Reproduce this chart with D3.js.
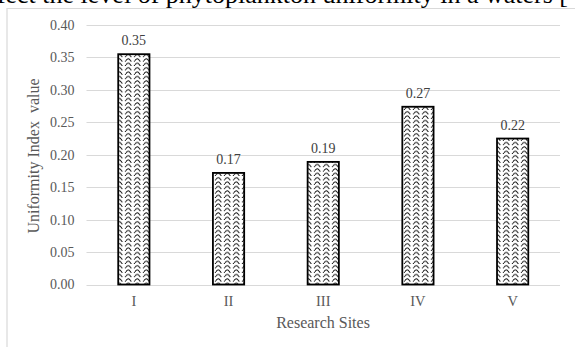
<!DOCTYPE html>
<html><head><meta charset="utf-8">
<script src="https://cdn.jsdelivr.net/npm/d3@7"></script>
<style>html,body{margin:0;padding:0;background:#fff;overflow:hidden}</style>
</head><body>
<svg id="c" width="575" height="347"></svg>
<script>
const categories = ["I","II","III","IV","V"];
const values = [0.355, 0.172, 0.189, 0.274, 0.225];
const valueLabels = ["0.35","0.17","0.19","0.27","0.22"];
const yTicks = [0,0.05,0.10,0.15,0.20,0.25,0.30,0.35,0.40];

const svg = d3.select("#c");
const serif = "'Liberation Serif','Times New Roman',serif";

// cut-off caption line above the chart (cropped in the reference as well)
svg.append("text").attr("x",568).attr("y",3).attr("text-anchor","end")
  .attr("font-family",serif).attr("font-size",26).attr("fill","#000")
  .text("factors that affect the level of phytoplankton uniformity in a waters [");

// frame
svg.append("line").attr("x1",6.5).attr("x2",575).attr("y1",8.5).attr("y2",8.5).attr("stroke","#d9d9d9").attr("stroke-width",1.2);
svg.append("line").attr("x1",7).attr("x2",7).attr("y1",8.5).attr("y2",347).attr("stroke","#d9d9d9").attr("stroke-width",1.2);

const defs = svg.append("defs");
const pat = defs.append("pattern").attr("id","wave").attr("patternUnits","userSpaceOnUse")
  .attr("width",9).attr("height",4.4);
pat.append("rect").attr("width",9).attr("height",4.4).attr("fill","#fff");
pat.append("path").attr("d","M0,3.3 Q2.25,-0.3 4.5,3.3 T9,3.3").attr("fill","none").attr("stroke","#000").attr("stroke-width",0.9);

const x = d3.scaleBand().domain(categories).range([86.5,560]).paddingInner(0.67).paddingOuter(0.335);
const y = d3.scaleLinear().domain([0,0.4]).range([284.5,25]);

const g = svg.append("g");
g.selectAll(".grid").data(yTicks).join("line")
  .attr("x1",86.5).attr("x2",560).attr("y1",d=>Math.round(y(d))+0.5).attr("y2",d=>Math.round(y(d))+0.5)
  .attr("stroke","#d9d9d9").attr("stroke-width",1);

const yAxis = d3.axisLeft(y).tickValues(yTicks).tickFormat(d3.format(".2f")).tickSize(0).tickPadding(12);
const ya = svg.append("g").attr("transform","translate(86.5,0)").call(yAxis);
ya.select(".domain").remove();
ya.selectAll("text").attr("font-family",serif).attr("font-size",14).attr("fill","#595959");

const xAxis = d3.axisBottom(x).tickSize(0).tickPadding(11);
const xa = svg.append("g").attr("transform","translate(0,284.5)").call(xAxis);
xa.select(".domain").remove();
xa.selectAll("text").attr("font-family",serif).attr("font-size",14.5).attr("fill","#595959");

g.selectAll(".bar").data(values).join("rect")
  .attr("x",(d,i)=>x(categories[i])).attr("width",x.bandwidth())
  .attr("y",d=>y(d)).attr("height",d=>y(0)-y(d))
  .attr("fill","url(#wave)").attr("stroke","#000").attr("stroke-width",1.8);

g.selectAll(".vl").data(values).join("text")
  .attr("x",(d,i)=>x(categories[i])+x.bandwidth()/2).attr("y",d=>y(d)-9)
  .attr("text-anchor","middle").attr("font-family",serif).attr("font-size",14).attr("fill","#404040")
  .text((d,i)=>valueLabels[i]);

svg.append("text").attr("x",323).attr("y",328).attr("text-anchor","middle")
  .attr("font-family",serif).attr("font-size",16).attr("fill","#595959").text("Research Sites");
svg.append("text").attr("transform","translate(39,156) rotate(-90)").attr("text-anchor","middle")
  .attr("font-family",serif).attr("font-size",16).attr("fill","#595959").style("white-space","pre")
  .text("Uniformity Index  value");
</script>
</body></html>
